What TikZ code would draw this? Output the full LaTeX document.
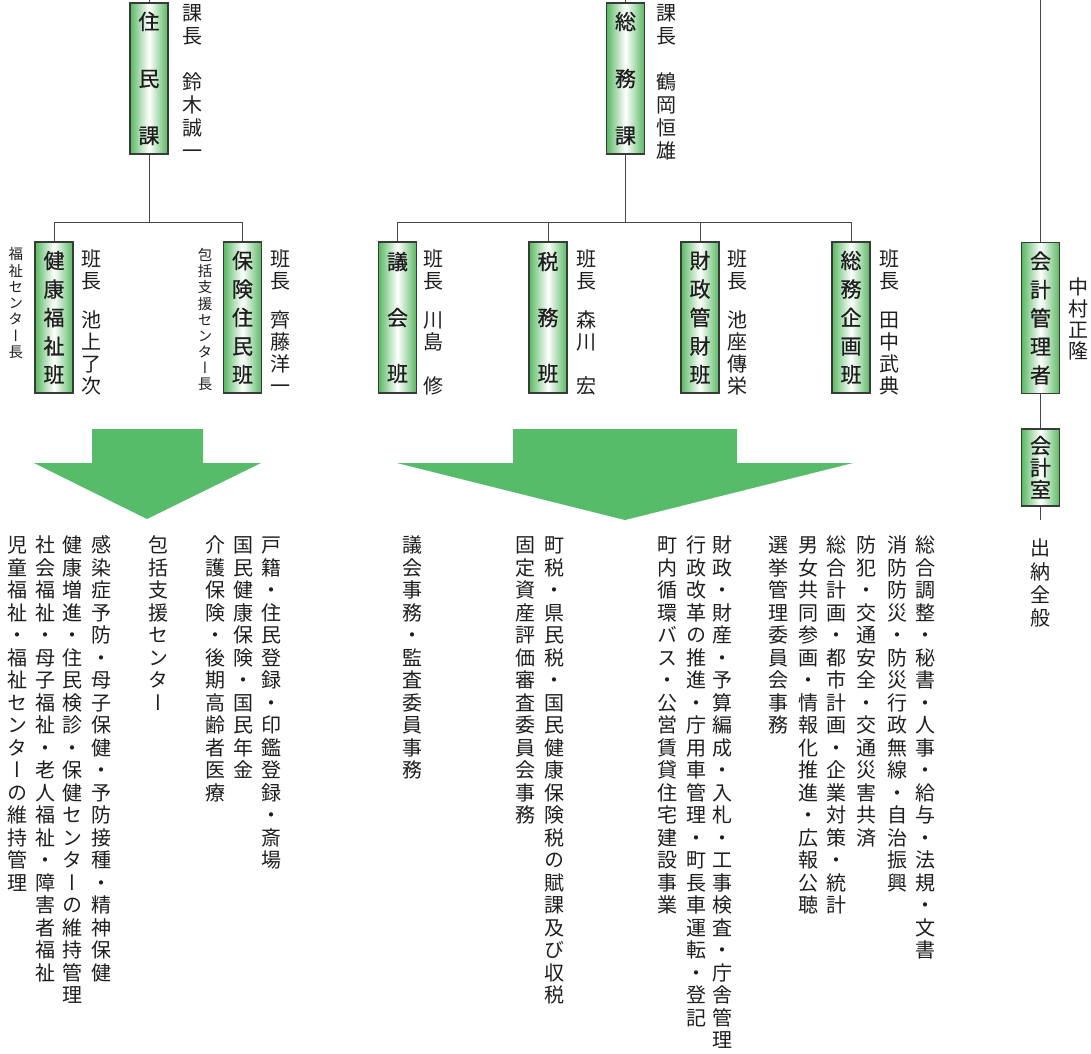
\documentclass[tikz,border=0pt]{standalone}
\usepackage{fontspec}
\newfontfamily\cjk[RawFeature={+vert}]{Noto Sans CJK JP}
\newfontfamily\cjkb[RawFeature={+vert},FakeBold=0.7]{Noto Sans CJK JP}
\def\vg{}
\newskip\vgap \vgap=17pt
\def\vt#1#2{\vbox{\baselineskip=#1\lineskiplimit=-100pt\lineskip=0pt\relax\vtaux#2\relax}}
\def\vtaux#1{\ifx#1\relax\else\ifx#1\vg\vskip\vgap\relax\else\hbox to 1em{\hss#1\hss\vrule height .88em depth .12em width 0pt}\fi\expandafter\vtaux\fi}
\definecolor{boxg}{RGB}{88,184,98}
\definecolor{boxedge}{RGB}{55,60,55}
\definecolor{linec}{RGB}{70,70,70}
\definecolor{arrg}{RGB}{86,188,106}
\definecolor{txt}{RGB}{30,30,30}
\tikzset{
  conn/.style={draw=linec, line width=1pt},
  gbox/.style={draw=boxedge, line width=1.2pt, left color=boxg, right color=boxg, middle color=white, minimum width=38pt, inner sep=0pt, text=txt, font=\cjkb\fontsize{21}{21}\selectfont},
  lbl/.style={inner sep=0pt, anchor=north, text=txt, font=\cjk\fontsize{20}{22}\selectfont},
  smalllbl/.style={inner sep=0pt, anchor=north, text=txt, font=\cjk\fontsize{14.5}{16}\selectfont},
  desc/.style={inner sep=0pt, anchor=north, text=txt, font=\cjk\fontsize{20}{22}\selectfont},
  arr/.style={fill=arrg, draw=none},
}
\begin{document}
\begin{tikzpicture}[x=1pt, y=-1pt]
\path[use as bounding box] (0,0) rectangle (1091,1053);
% arrows
\fill[arr] (92,429) -- (203,429) -- (203,463) -- (261,463) -- (147,519) -- (34,463) -- (92,463) -- cycle;
\fill[arr] (513,429) -- (737,429) -- (737,463) -- (853,463) -- (625,520) -- (397,463) -- (513,463) -- cycle;
% boxes
\node[gbox, minimum height=151pt] (jumin) at (149,78.5) {\vt{57pt}{住民課}};
\node[gbox, minimum height=151pt] (somu) at (625.5,78.5) {\vt{57pt}{総務課}};
\node[gbox, minimum height=151pt] (kenko) at (54,317.5) {\vt{28.5pt}{健康福祉班}};
\node[gbox, minimum height=151pt] (hoken) at (242.5,317.5) {\vt{28.5pt}{保険住民班}};
\node[gbox, minimum height=151pt] (gikai) at (397.5,317.5) {\vt{56pt}{議会班}};
\node[gbox, minimum height=151pt] (zeimu) at (548,317.5) {\vt{56pt}{税務班}};
\node[gbox, minimum height=151pt] (zaisei) at (700,317.5) {\vt{28.5pt}{財政管財班}};
\node[gbox, minimum height=151pt] (kikaku) at (851,317.5) {\vt{28.5pt}{総務企画班}};
\node[gbox, minimum height=151pt] (kanri) at (1040.5,318) {\vt{28.5pt}{会計管理者}};
\node[gbox, minimum height=77pt] (shitsu) at (1040.5,467.5) {\vt{22pt}{会計室}};
% connectors
\coordinate (jtop) at (149,0);
\coordinate (jbar) at (149,222);
\coordinate (stop) at (625.5,0);
\coordinate (sbar) at (625.5,222);
\coordinate (ktop) at (1040.5,0);
\coordinate (kbot) at (1040.5,520);
\draw[conn] (jumin.north) -- (jtop);
\draw[conn] (jumin.south) -- (jbar);
\draw[conn] (kenko.north) -- (kenko.north |- jbar) -- (hoken.north |- jbar) -- (hoken.north);
\draw[conn] (somu.north) -- (stop);
\draw[conn] (somu.south) -- (sbar);
\draw[conn] (gikai.north) -- (gikai.north |- sbar) -- (kikaku.north |- sbar) -- (kikaku.north);
\draw[conn] (zeimu.north) -- (zeimu.north |- sbar);
\draw[conn] (zaisei.north) -- (zaisei.north |- sbar);
\draw[conn] (kanri.north) -- (ktop);
\draw[conn] (kanri.south) -- (shitsu.north);
\draw[conn] (shitsu.south) -- (kbot);
% labels
\node[lbl] (jlab) at (192,3) {\vt{23pt}{課長　鈴木誠一}};
\node[lbl] (slab) at (666,3) {\vt{23pt}{課長　鶴岡恒雄}};
\node[lbl] (kenkolab) at (91,249) {\vt{22pt}{班長\vg 池上了次}};
\node[lbl] (hokenlab) at (280,249) {\vt{22pt}{班長\vg 齊藤洋一}};
\node[lbl] (gikailab) at (433,249) {\vt{22pt}{班長\vg 川島　修}};
\node[lbl] (zeimulab) at (586,249) {\vt{22pt}{班長\vg 森川　宏}};
\node[lbl] (zaiseilab) at (737,249) {\vt{22pt}{班長\vg 池座傳栄}};
\node[lbl] (kikakulab) at (889,249) {\vt{22pt}{班長\vg 田中武典}};
\node[lbl] (kanrilab) at (1078,277) {\vt{21.3pt}{中村正隆}};
\node[smalllbl] (fukushi) at (16,246.75) {\vt{16.3pt}{福祉センター長}};
\node[smalllbl] (houkatsu) at (205,247.75) {\vt{16.1pt}{包括支援センター長}};
% descriptions
\node[desc] (d1) at (271,535) {\vt{22.5pt}{戸籍・住民登録・印鑑登録・斎場}};
\node[desc] (d2) at (243,535) {\vt{22.5pt}{国民健康保険・国民年金}};
\node[desc] (d3) at (215,535) {\vt{22.5pt}{介護保険・後期高齢者医療}};
\node[desc] (d4) at (158,535) {\vt{22.5pt}{包括支援センター}};
\node[desc] (d5) at (101,535) {\vt{22.5pt}{感染症予防・母子保健・予防接種・精神保健}};
\node[desc] (d6) at (72,535) {\vt{22.5pt}{健康増進・住民検診・保健センターの維持管理}};
\node[desc] (d7) at (45,535) {\vt{22.5pt}{社会福祉・母子福祉・老人福祉・障害者福祉}};
\node[desc] (d8) at (17,535) {\vt{22.5pt}{児童福祉・福祉センターの維持管理}};
\node[desc] (d9) at (554,535) {\vt{22.5pt}{町税・県民税・国民健康保険税の賦課及び収税}};
\node[desc] (d10) at (525,535) {\vt{22.5pt}{固定資産評価審査委員会事務}};
\node[desc] (d11) at (412,535) {\vt{22.5pt}{議会事務・監査委員事務}};
\node[desc] (d12) at (925,535) {\vt{22.5pt}{総合調整・秘書・人事・給与・法規・文書}};
\node[desc] (d13) at (897,535) {\vt{22.5pt}{消防防災・防災行政無線・自治振興}};
\node[desc] (d14) at (866,535) {\vt{22.5pt}{防犯・交通安全・交通災害共済}};
\node[desc] (d15) at (836,535) {\vt{22.5pt}{総合計画・都市計画・企業対策・統計}};
\node[desc] (d16) at (808,535) {\vt{22.5pt}{男女共同参画・情報化推進・広報公聴}};
\node[desc] (d17) at (778,535) {\vt{22.5pt}{選挙管理委員会事務}};
\node[desc] (d18) at (722,535) {\vt{22.5pt}{財政・財産・予算編成・入札・工事検査・庁舎管理}};
\node[desc] (d19) at (696,535) {\vt{22.5pt}{行政改革の推進・庁用車管理・町長車運転・登記}};
\node[desc] (d20) at (667,535) {\vt{22.5pt}{町内循環バス・公営賃貸住宅建設事業}};
\node[desc] (d21) at (1040.5,538) {\vt{23.3pt}{出納全般}};
\end{tikzpicture}
\end{document}
